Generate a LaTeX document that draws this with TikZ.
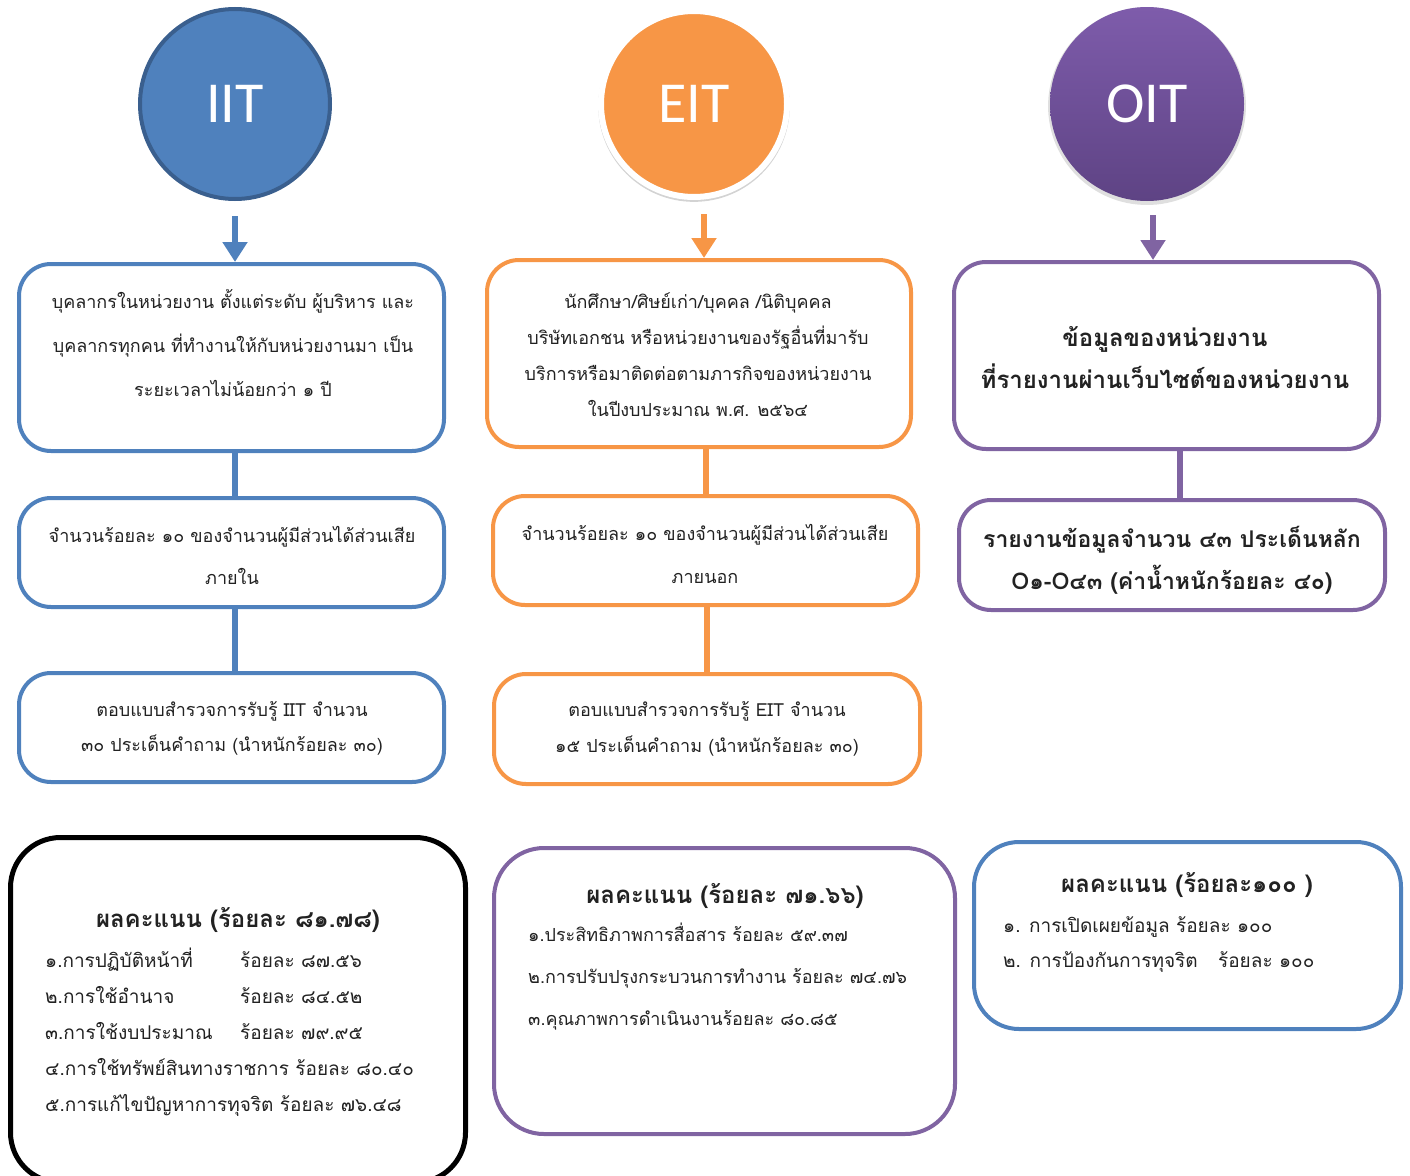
\documentclass[tikz,border=0pt]{standalone}
\usepackage{fontspec}
\setmainfont{Carlito}
\newfontfamily\thai[Script=Thai]{Loma}
\usetikzlibrary{arrows.meta,shadows,calc}
\definecolor{cblue}{HTML}{4F81BD}
\definecolor{cbluedark}{HTML}{3A5F8E}
\definecolor{corange}{HTML}{F79646}
\definecolor{cpurple}{HTML}{8064A2}
\definecolor{cpurplelt}{HTML}{7E5CAB}
\definecolor{cpurpledk}{HTML}{5E4384}
\definecolor{ctext}{HTML}{222222}
\tikzset{
  rbox/.style={draw=#1, line width=4pt, rounded corners=32pt, fill=white, inner sep=0pt},
  conn/.style={draw=#1, line width=6pt},
  arr/.style={draw=#1, line width=6pt, -{Triangle[width=24pt,length=20pt]}},
  txt/.style={text=ctext, align=center, inner sep=0pt, font=\thai\fontsize{18}{#1}\selectfont},
  btxt/.style={text=ctext, align=center, inner sep=0pt, font=\thai\bfseries\fontsize{24}{#1}\selectfont},
  bstxt/.style={text=ctext, align=center, inner sep=0pt, font=\thai\bfseries\fontsize{23}{#1}\selectfont},
  ltxt/.style={text=ctext, align=left, inner sep=0pt, anchor=west, font=\thai\fontsize{19}{#1}\selectfont},
  lstxt/.style={text=ctext, align=left, inner sep=0pt, anchor=west, font=\thai\fontsize{18}{#1}\selectfont},
  circ/.style={circle, minimum size=#1, inner sep=0pt, text=white, font=\fontsize{58}{58}\selectfont},
}
\begin{document}
\begin{tikzpicture}[x=1pt,y=-1pt]
\useasboundingbox (0,0) rectangle (1410,1175);
% circles
\node[circ=190pt, fill=cblue, draw=cbluedark, line width=4pt] (iit) at (235,104) {IIT};
\node[circ=186pt, fill=corange, draw=white, line width=6pt,
      drop shadow={opacity=0.35, shadow xshift=0pt, shadow yshift=-2pt, shadow scale=1.03}] (eit) at (694,104) {EIT};
\node[circ=194pt, top color=cpurplelt, bottom color=cpurpledk, draw=none,
      drop shadow={opacity=0.25, shadow xshift=0pt, shadow yshift=-2pt, shadow scale=1.02}] (oit) at (1147,104) {OIT};

% IIT column
\node[rbox=cblue, minimum width=425pt, minimum height=187pt] (i1) at (231.5,357.5) {};
\node[rbox=cblue, minimum width=425pt, minimum height=109pt] (i2) at (231.5,552.5) {};
\node[rbox=cblue, minimum width=425pt, minimum height=109pt] (i3) at (231.5,727.5) {};
\draw[arr=cblue] ([yshift=-15pt]iit.south) -- (iit.south |- i1.north);
\draw[conn=cblue] (iit.south |- i1.south) -- (iit.south |- i2.north);
\draw[conn=cblue] (iit.south |- i2.south) -- (iit.south |- i3.north);
\node[txt=44pt] (i1t) at (233,343) {บุคลากรในหน่วยงาน ตั้งแต่ระดับ ผู้บริหาร และ\\บุคลากรทุกคน ที่ทำงานให้กับหน่วยงานมา เป็น\\ระยะเวลาไม่น้อยกว่า ๑ ปี};
\node[txt=42pt] (i2t) at (232,555) {จำนวนร้อยละ ๑๐ ของจำนวนผู้มีส่วนได้ส่วนเสีย\\ภายใน};
\node[txt=35pt] (i3t) at (232,728) {ตอบแบบสำรวจการรับรู้ IIT จำนวน\\๓๐ ประเด็นคำถาม (นำหนักร้อยละ ๓๐)};

% EIT column
\node[rbox=corange, minimum width=424pt, minimum height=187pt] (e1) at (699,353.5) {};
\node[rbox=corange, minimum width=425pt, minimum height=109pt] (e2) at (705.5,550.5) {};
\node[rbox=corange, minimum width=426pt, minimum height=110pt] (e3) at (707,729) {};
\draw[arr=corange] ([xshift=10pt,yshift=-14pt]eit.south) -- ([xshift=10pt]eit.south |- e1.north);
\draw[conn=corange] (e2.north |- e1.south) -- (e2.north);
\draw[conn=corange] (e3.north |- e2.south) -- (e3.north);
\node[txt=36pt] (e1t) at (698,355) {นักศึกษา/ศิษย์เก่า/บุคคล /นิติบุคคล\\บริษัทเอกชน หรือหน่วยงานของรัฐอื่นที่มารับ\\บริการหรือมาติดต่อตามภารกิจของหน่วยงาน\\ในปีงบประมาณ พ.ศ. ๒๕๖๔};
\node[txt=43pt] (e2t) at (705,554) {จำนวนร้อยละ ๑๐ ของจำนวนผู้มีส่วนได้ส่วนเสีย\\ภายนอก};
\node[txt=36pt] (e3t) at (707,729) {ตอบแบบสำรวจการรับรู้ EIT จำนวน\\๑๕ ประเด็นคำถาม (นำหนักร้อยละ ๓๐)};

% OIT column
\node[rbox=cpurple, minimum width=425pt, minimum height=187pt] (o1) at (1166.5,355.5) {};
\node[rbox=cpurple, minimum width=426pt, minimum height=110pt] (o2) at (1172,555) {};
\draw[arr=cpurple] ([xshift=6pt,yshift=-14pt]oit.south) -- ([xshift=6pt]oit.south |- o1.north);
\draw[conn=cpurple] ([xshift=13pt]o1.south) -- ([xshift=13pt]o1.south |- o2.north);
\node[btxt=42pt] (o1t) at (1165,358) {ข้อมูลของหน่วยงาน\\ที่รายงานผ่านเว็บไซต์ของหน่วยงาน};
\node[bstxt=42pt] (o2t) at (1172,560) {รายงานข้อมูลจำนวน ๔๓ ประเด็นหลัก\\O๑-O๔๓ (ค่าน้ำหนักร้อยละ ๔๐)};

% result boxes
\node[rbox=black, line width=5pt, rounded corners=50pt, minimum width=455pt, minimum height=345pt] (r1) at (238,1010) {};
\node[btxt=30pt] (r1h) at (238,920) {ผลคะแนน (ร้อยละ ๘๑.๗๘)};
\node[ltxt=36pt] (r1l) at (45,1032) {\makebox[195pt][l]{๑.การปฏิบัติหน้าที่}ร้อยละ ๘๗.๕๖\\
\makebox[195pt][l]{๒.การใช้อำนาจ}ร้อยละ ๘๔.๕๒\\
\makebox[195pt][l]{๓.การใช้งบประมาณ}ร้อยละ ๗๙.๙๕\\
๔.การใช้ทรัพย์สินทางราชการ ร้อยละ ๘๐.๔๐\\
๕.การแก้ไขปัญหาการทุจริต ร้อยละ ๗๖.๔๘};

\node[rbox=cpurple, rounded corners=50pt, minimum width=461pt, minimum height=286pt] (r2) at (724.5,991) {};
\node[btxt=30pt] (r2h) at (725,896) {ผลคะแนน (ร้อยละ ๗๑.๖๖)};
\node[lstxt=42pt] (r2l) at (528,977) {๑.ประสิทธิภาพการสื่อสาร ร้อยละ ๕๙.๓๗\\
๒.การปรับปรุงกระบวนการทำงาน ร้อยละ ๗๔.๗๖\\
๓.คุณภาพการดำเนินงานร้อยละ ๘๐.๘๕};

\node[rbox=cblue, rounded corners=45pt, minimum width=427pt, minimum height=187pt] (r3) at (1187.5,935.5) {};
\node[btxt=30pt] (r3h) at (1187,885) {ผลคะแนน (ร้อยละ๑๐๐ )};
\node[ltxt=35pt] (r3l) at (1003,944.5) {๑. การเปิดเผยข้อมูล ร้อยละ ๑๐๐\\
๒. การป้องกันการทุจริต\hspace{14pt} ร้อยละ ๑๐๐};
\end{tikzpicture}
\end{document}
